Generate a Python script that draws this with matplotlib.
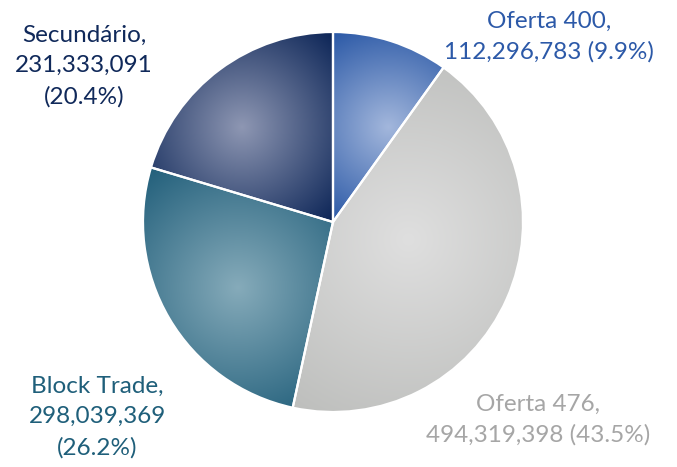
import matplotlib
matplotlib.use("Agg")
import matplotlib.pyplot as plt
import numpy as np
from matplotlib.colors import to_rgb

plt.rcParams['font.family'] = ['Lato', 'DejaVu Sans']

labels = ["Oferta 400", "Oferta 476", "Block Trade", "Secundário"]
values = [112296783, 494319398, 298039369, 231333091]
pcts = [9.9, 43.5, 26.2, 20.4]

# radial gradient: light middle -> darker rim, per slice
light = ["#a3b7dc", "#dfdfdf", "#86abba", "#8e97b3"]
dark = ["#2a58a6", "#bdbebc", "#1f5d79", "#0b2456"]
text_col = ["#2c59a8", "#a6a6a6", "#1f5f7a", "#10295a"]

W, H = 677, 467
fig = plt.figure(figsize=(W / 100, H / 100), dpi=100)
ax = fig.add_axes([0, 0, 1, 1])

cx, cy, R = 333, H - 222, 190
wedges, _ = ax.pie(values, startangle=90, counterclock=False,
                   center=(cx, cy), radius=R, frame=True,
                   wedgeprops=dict(edgecolor="white", linewidth=1.6))
ax.set_xlim(0, W)
ax.set_ylim(0, H)
ax.set_aspect("equal")
ax.axis("off")

for w, c0, c1 in zip(wedges, light, dark):
    th = np.radians(np.linspace(w.theta1, w.theta2, 200))
    xs = np.concatenate([[cx], cx + R * np.cos(th)])
    ys = np.concatenate([[cy], cy + R * np.sin(th)])
    x0, x1, y0, y1 = xs.min(), xs.max(), ys.min(), ys.max()
    gx, gy = np.meshgrid(np.linspace(x0, x1, 300), np.linspace(y0, y1, 300))
    mx, my = (x0 + x1) / 2, (y0 + y1) / 2
    d = np.hypot(gx - mx, gy - my)
    t = np.clip(d / d.max(), 0, 1)[..., None]
    img = np.array(to_rgb(c0)) * (1 - t) + np.array(to_rgb(c1)) * t
    im = ax.imshow(img, extent=(x0, x1, y0, y1), origin="lower",
                   interpolation="bilinear", zorder=1)
    im.set_clip_path(w)
    w.set_facecolor("none")
    w.set_zorder(2)

texts = [
    f"{labels[0]},\n{values[0]:,} ({pcts[0]}%)",
    f"{labels[1]},\n{values[1]:,} ({pcts[1]}%)",
    f"{labels[2]},\n{values[2]:,}\n({pcts[2]}%)",
    f"{labels[3]},\n{values[3]:,}\n({pcts[3]}%)",
]
pos = [(549, 37), (538, 420), (97, 417), (84, 66)]
for s, (x, y), c in zip(texts, pos, text_col):
    ax.text(x, H - y, s, ha="center", va="center", color=c,
            fontsize=17.5, linespacing=1.55, zorder=3)

fig.savefig("out.png", dpi=100)
